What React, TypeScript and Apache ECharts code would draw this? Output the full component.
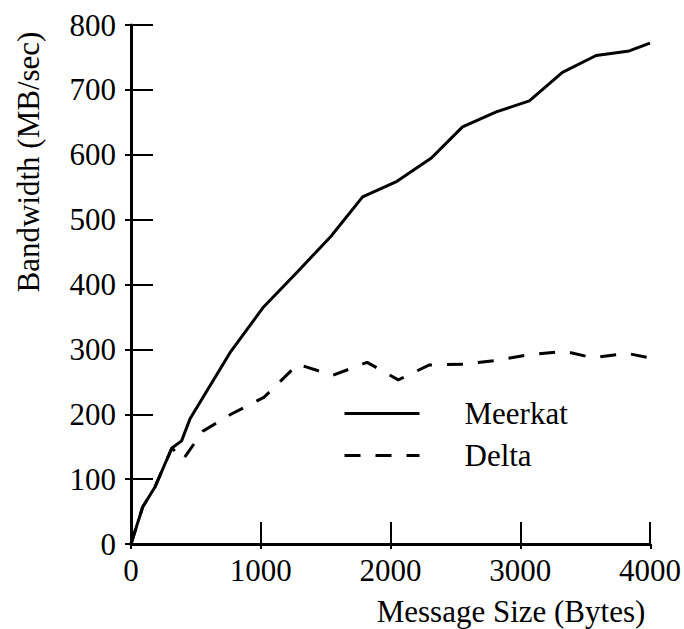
import React, { useEffect, useRef } from "react";
import * as echarts from "echarts";

const xTickValues = [0, 1000, 2000, 3000, 4000];
const yTickValues = [0, 100, 200, 300, 400, 500, 600, 700, 800];

const seriesNames = ["Meerkat", "Delta"];

const meerkatSizes = [0, 90, 185, 315, 390, 455, 770, 1020, 1280, 1540, 1785, 2050, 2315, 2555, 2815, 3070, 3325, 3585, 3840, 4000];
const meerkatBandwidth = [0, 57, 88, 148, 159, 193, 297, 365, 419, 474, 535, 559, 595, 643, 666, 683, 727, 753, 760, 772];

const deltaSizes = [0, 90, 185, 315, 400, 555, 770, 1024, 1285, 1555, 1820, 2060, 2300, 2560, 2816, 3072, 3340, 3560, 3820, 4000];
const deltaBandwidth = [0, 57, 88, 148, 130, 174, 200, 226, 277, 260, 280, 253, 276, 277, 283, 292, 297, 287, 294, 287];

const xTitle = "Message Size (Bytes)";
const yTitle = "Bandwidth (MB/sec)";

const FONT = "Liberation Serif";
const FS = 31;

function pairs(xs: number[], ys: number[]) {
  return xs.map((x, i) => [x, ys[i]]);
}

export default function App() {
  const ref = useRef<HTMLDivElement>(null);
  useEffect(() => {
    if (!ref.current) return;
    const chart = echarts.init(ref.current, null, { renderer: "svg" });
    const xMin = xTickValues[0];
    const xMax = xTickValues[xTickValues.length - 1];
    const yMin = yTickValues[0];
    const yMax = yTickValues[yTickValues.length - 1];
    const gridPos = { left: 131, top: 25, width: 520, height: 519 };
    const plain = (v: number) => String(v);
    chart.setOption({
      animation: false,
      backgroundColor: "#ffffff",
      grid: [
        { ...gridPos, containLabel: false },
        { ...gridPos, containLabel: false },
      ],
      xAxis: [
        {
          type: "value",
          gridIndex: 0,
          min: xMin,
          max: xMax,
          interval: 1000,
          splitLine: { show: false },
          axisLine: { show: true, lineStyle: { color: "#000", width: 3 } },
          axisTick: { show: true, inside: true, length: 22, lineStyle: { color: "#000", width: 2 } },
          axisLabel: { show: true, margin: 11, color: "#000", fontSize: FS, fontFamily: FONT, formatter: plain },
        },
        {
          type: "value",
          gridIndex: 1,
          min: xMin,
          max: xMax,
          interval: 1000,
          splitLine: { show: false },
          axisLine: { show: false },
          axisTick: { show: true, inside: false, length: 5, lineStyle: { color: "#000", width: 2 } },
          axisLabel: { show: false },
        },
      ],
      yAxis: [
        {
          type: "value",
          gridIndex: 0,
          min: yMin,
          max: yMax,
          interval: 100,
          splitLine: { show: false },
          axisLine: { show: true, lineStyle: { color: "#000", width: 3 } },
          axisTick: { show: true, inside: true, length: 22, lineStyle: { color: "#000", width: 2 } },
          axisLabel: { show: true, margin: 15, color: "#000", fontSize: FS, fontFamily: FONT, formatter: plain },
        },
        {
          type: "value",
          gridIndex: 1,
          min: yMin,
          max: yMax,
          interval: 100,
          splitLine: { show: false },
          axisLine: { show: false },
          axisTick: { show: true, inside: false, length: 6, lineStyle: { color: "#000", width: 2 } },
          axisLabel: { show: false },
        },
      ],
      legend: {
        show: true,
        orient: "vertical",
        left: 343,
        top: 398,
        padding: 0,
        itemWidth: 75,
        itemHeight: 31,
        itemGap: 11,
        data: seriesNames,
        itemStyle: { opacity: 0 },
        lineStyle: { width: 3, color: "#000" },
        textStyle: {
          color: "#000",
          fontSize: FS,
          fontFamily: FONT,
          padding: [0, 0, 0, 40],
        },
      },
      graphic: [
        {
          type: "text",
          x: 511,
          y: 611,
          style: {
            text: xTitle,
            fill: "#000",
            font: `${FS}px "${FONT}"`,
            align: "center",
            verticalAlign: "middle",
          },
        },
        {
          type: "text",
          x: 28,
          y: 162,
          rotation: Math.PI / 2,
          style: {
            text: yTitle,
            fill: "#000",
            font: `${FS}px "${FONT}"`,
            align: "center",
            verticalAlign: "middle",
          },
        },
      ],
      series: [
        {
          name: seriesNames[0],
          type: "line",
          xAxisIndex: 0,
          yAxisIndex: 0,
          data: pairs(meerkatSizes, meerkatBandwidth),
          symbol: "none",
          lineStyle: { color: "#000", width: 3, type: "solid" },
          itemStyle: { color: "#000" },
        },
        {
          name: seriesNames[1],
          type: "line",
          xAxisIndex: 0,
          yAxisIndex: 0,
          data: pairs(deltaSizes, deltaBandwidth),
          symbol: "none",
          lineStyle: { color: "#000", width: 3, type: [16, 15] },
          itemStyle: { color: "#000" },
        },
      ],
    });
    return () => chart.dispose();
  }, []);
  return <div ref={ref} style={{ width: 684, height: 629, position: "absolute", left: 0, top: 0 }} />;
}
